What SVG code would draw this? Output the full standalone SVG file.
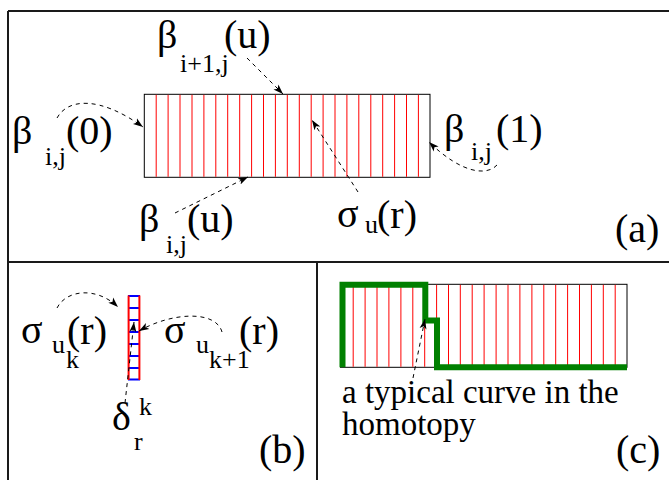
<svg xmlns="http://www.w3.org/2000/svg" width="669" height="480" viewBox="0 0 669 480">
<style>
text{font-family:'Liberation Serif','DejaVu Serif','Times New Roman',serif;fill:#000}
.lbl{font-size:40px}
.sub{font-size:26px}
.txt{font-size:33px}
.frame{stroke:#1a1a1a;stroke-width:2;fill:none}
.box{stroke:#000;stroke-width:1;fill:#fff}
.red{stroke:#ff0000;stroke-width:1}
.conn{stroke:#000;stroke-width:1;fill:none;stroke-dasharray:4 4;marker-end:url(#ah)}
</style>
<defs>
<marker id="ah" markerUnits="userSpaceOnUse" markerWidth="12" markerHeight="8" refX="10" refY="4" orient="auto">
<path d="M0,0.5 L10,4 L0,7.5 L2.5,4 z" fill="#000"/>
</marker>
</defs>
<rect width="669" height="480" fill="#fff"/>
<g id="frame">
<path class="frame" d="M8,11 H669 M8,11 V480 M8,262 H669 M317,262 V480"/>
</g>
<g id="strip-a">
<rect class="box" x="144.3" y="94.3" width="285.7" height="83"/>
<path class="red" d="M156.2,94.8V176.8M168.1,94.8V176.8M180,94.8V176.8M192,94.8V176.8M203.9,94.8V176.8M215.8,94.8V176.8M227.7,94.8V176.8M239.7,94.8V176.8M251.6,94.8V176.8M263.5,94.8V176.8M275.4,94.8V176.8M287.3,94.8V176.8M299.3,94.8V176.8M311.2,94.8V176.8M323.1,94.8V176.8M335,94.8V176.8M346.9,94.8V176.8M358.8,94.8V176.8M370.8,94.8V176.8M382.7,94.8V176.8M394.6,94.8V176.8M406.5,94.8V176.8M418.4,94.8V176.8"/>
</g>
<g id="strip-c">
<rect class="box" x="340.5" y="284.3" width="286.5" height="83"/>
<path class="red" d="M353.2,284.8V366.8M365.1,284.8V366.8M377,284.8V366.8M388.9,284.8V366.8M400.9,284.8V366.8M412.8,284.8V366.8M424.7,284.8V366.8M436.6,284.8V366.8M448.5,284.8V366.8M460.3,284.8V366.8M472.2,284.8V366.8M484.1,284.8V366.8M496.1,284.8V366.8M508,284.8V366.8M519.9,284.8V366.8M531.9,284.8V366.8M543.8,284.8V366.8M555.7,284.8V366.8M567.6,284.8V366.8M579.5,284.8V366.8M591.4,284.8V366.8M603.3,284.8V366.8M615.2,284.8V366.8"/>
<path d="M342.5,367.3 V284.8 H425.3 V320.5 H437 V367.3 H627" fill="none" stroke="#008000" stroke-width="6" stroke-linejoin="miter"/>
</g>
<g id="column-b">
<path d="M128,296H140M128,308H140M128,320H140M128,332H140M128,344H140M128,356H140M128,368H140M128,379.5H140" stroke="#0000ff" stroke-width="1.8"/>
<path d="M128.6,295.5V380M139.4,295.5V380" stroke="#ff0000" stroke-width="2"/>
</g>
<g id="connectors">
<path class="conn" d="M247,58 L283,94"/>
<path class="conn" d="M57,118 C68,98 100,96 143,127"/>
<path class="conn" d="M497,165 C487,176 462,174 429,142"/>
<path class="conn" d="M175,213 L248,177"/>
<path class="conn" d="M358,192 L312,120"/>
<path class="conn" d="M57,308 C66,290 96,286 118,307"/>
<path class="conn" d="M222,332 C216,310 172,312 139,331"/>
<path class="conn" d="M125,403 L134,322"/>
<path class="conn" d="M413,378 L425,319"/>
</g>
<g id="label-beta-top">
<text class="lbl"><tspan x="157" y="48">β</tspan><tspan class="sub" x="180" y="72">i+1,j</tspan><tspan x="224" y="48">(u)</tspan></text>
</g>
<g id="label-beta-0">
<text class="lbl"><tspan x="12" y="144">β</tspan><tspan class="sub" x="45" y="165">i,j</tspan><tspan x="66" y="144">(0)</tspan></text>
</g>
<g id="label-beta-1">
<text class="lbl"><tspan x="444" y="142">β</tspan><tspan class="sub" x="471" y="160">i,j</tspan><tspan x="496" y="142">(1)</tspan></text>
</g>
<g id="label-beta-u">
<text class="lbl"><tspan x="139" y="232">β</tspan><tspan class="sub" x="166" y="253">i,j</tspan><tspan x="187" y="232">(u)</tspan></text>
</g>
<g id="label-sigma-u">
<text class="lbl"><tspan x="337" y="227">σ</tspan><tspan class="sub" x="365" y="233">u</tspan><tspan x="377" y="228">(r)</tspan></text>
</g>
<g id="label-a"><text class="lbl" x="615" y="242">(a)</text></g>
<g id="label-sigma-uk">
<text class="lbl"><tspan x="21" y="343">σ</tspan><tspan class="sub" x="52" y="353">u</tspan><tspan class="sub" x="66" y="368">k</tspan><tspan x="67" y="344">(r)</tspan></text>
</g>
<g id="label-sigma-uk1">
<text class="lbl"><tspan x="164" y="343">σ</tspan><tspan class="sub" x="196" y="353">u</tspan><tspan class="sub" x="209" y="368">k+1</tspan><tspan x="239" y="344">(r)</tspan></text>
</g>
<g id="label-delta">
<text class="lbl"><tspan x="112" y="430">δ</tspan><tspan class="sub" x="139" y="415">k</tspan><tspan class="sub" x="134" y="450">r</tspan></text>
</g>
<g id="label-b"><text class="lbl" x="259" y="463">(b)</text></g>
<g id="label-curve">
<text class="txt"><tspan x="342" y="403">a typical curve in the</tspan><tspan x="342" y="435">homotopy</tspan></text>
</g>
<g id="label-c"><text class="lbl" x="616" y="463">(c)</text></g>
</svg>
